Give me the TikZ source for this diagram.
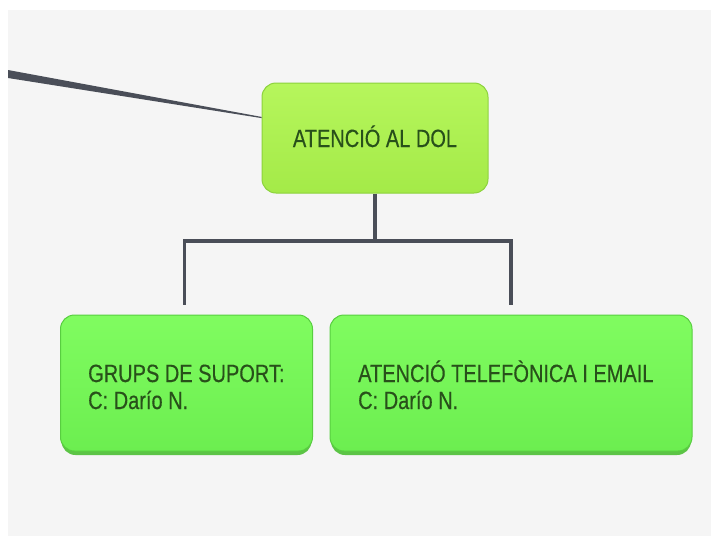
\documentclass[tikz,border=0pt]{standalone}
\usepackage{fontspec}
\setmainfont{Liberation Sans}[FakeStretch=0.8,FakeBold=0.4]
\usetikzlibrary{calc}
\definecolor{bgc}{RGB}{245,245,245}
\definecolor{linec}{RGB}{74,78,88}
\definecolor{txtc}{RGB}{40,80,26}
\definecolor{limeT}{RGB}{182,246,92}
\definecolor{limeB}{RGB}{164,234,72}
\definecolor{limeD}{RGB}{140,210,60}
\definecolor{grnT}{RGB}{128,252,96}
\definecolor{grnB}{RGB}{108,238,80}
\definecolor{grnD}{RGB}{88,206,64}
\definecolor{shd}{RGB}{92,196,70}
\tikzset{
  box/.style={rectangle, rounded corners=14pt, line width=1pt, inner sep=0pt},
  topbox/.style={box, draw=limeD, top color=limeT, bottom color=limeB},
  childbox/.style={box, draw=grnD, top color=grnT, bottom color=grnB},
  shadowbox/.style={box, fill=shd, draw=none},
  txt/.style={text=txtc, font=\fontsize{25}{27}\selectfont, align=left, inner sep=0pt},
  conn/.style={draw=linec, line width=4pt},
}
\begin{document}
\begin{tikzpicture}[x=1pt,y=-1pt]
\useasboundingbox (0,0) rectangle (711,536);
\fill[white] (0,0) rectangle (711,536);
\fill[bgc] (8,10) rectangle (711,536);
% shadows of child boxes
\node[shadowbox, minimum width=250pt, minimum height=138pt] (leftshd) at (186.5,386) {};
\node[shadowbox, minimum width=360pt, minimum height=138pt] (rightshd) at (511,386) {};
% nodes
\node[topbox, minimum width=226pt, minimum height=110pt] (top) at (375,138) {};
\node[txt, anchor=base] (toptxt) at (375,147) {ATENCIÓ AL DOL};
\node[childbox, minimum width=252pt, minimum height=136pt] (left) at (186.5,383) {};
\node[childbox, minimum width=362pt, minimum height=136pt] (right) at (511,383) {};
\node[txt, anchor=base west] (lefttxt) at (88,409) {GRUPS DE SUPORT:\\C: Darío N.};
\node[txt, anchor=base west] (righttxt) at (358,409) {ATENCIÓ TELEFÒNICA I EMAIL\\C: Darío N.};
% incoming tapered line
\coordinate (src) at (8,74);
\coordinate (inend) at ($(top.north west)+(0,35)$);
\fill[linec] ($(src)+(0,-4)$) -- ($(inend)+(0,-0.6)$) -- ($(inend)+(0,0.6)$) -- ($(src)+(0,4)$) -- cycle;
% tree connectors
\coordinate (bar) at ($(top.south)+(0,47)$);
\draw[conn] (top.south) -- (bar);
\draw[conn, line cap=rect] ($(bar-|left.north)+(-2,0)$) -- (bar-|right.north);
\draw[linec, line width=3.5pt] (bar-|left.north) ++(-2,0) -- ($(left.north)+(-2,-10)$);
\draw[linec, line width=3.5pt] (bar-|right.north) -- ($(right.north)+(0,-10)$);
\end{tikzpicture}
\end{document}
